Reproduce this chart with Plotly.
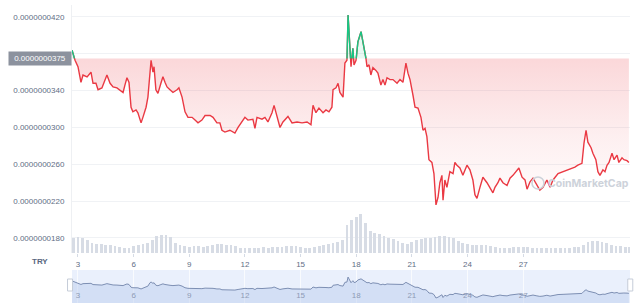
import plotly.graph_objects as go

# ---------------- data ----------------
# time in days of the month, price in units of 1e-10 TRY
days = [2.68, 2.73, 2.84, 3.00, 3.16, 3.27, 3.49, 3.70, 3.81, 3.97, 4.08, 4.29, 4.56, 4.73, 4.89,
        5.10, 5.26, 5.43, 5.53, 5.64, 5.75, 5.86, 5.96, 6.13, 6.23, 6.40, 6.50, 6.67, 6.77, 6.88,
        6.94, 7.04, 7.10, 7.20, 7.31, 7.47, 7.58, 7.69, 7.80, 7.96, 8.12, 8.34, 8.44, 8.61, 8.77,
        8.93, 9.15, 9.31, 9.47, 9.68, 9.85, 10.12, 10.28, 10.49, 10.65, 10.76, 10.92, 11.19, 11.46,
        11.63, 11.84, 12.00, 12.16, 12.43, 12.54, 12.65, 12.92, 13.08, 13.24, 13.46, 13.57, 13.73,
        13.89, 14.05, 14.32, 14.54, 14.81, 15.08, 15.35, 15.56, 15.67, 15.83, 15.99, 16.21, 16.37,
        16.53, 16.69, 16.75, 16.91, 17.02, 17.12, 17.29, 17.39, 17.50, 17.56, 17.66, 17.72, 17.82,
        17.88, 17.99, 18.09, 18.26, 18.36, 18.47, 18.58, 18.69, 18.79, 18.90, 19.06, 19.17, 19.33,
        19.44, 19.55, 19.66, 19.82, 19.98, 20.20, 20.36, 20.52, 20.68, 20.79, 20.90, 21.06, 21.17,
        21.33, 21.49, 21.60, 21.71, 21.81, 21.92, 22.08, 22.19, 22.30, 22.41, 22.51, 22.62, 22.68,
        22.78, 22.89, 23.05, 23.22, 23.32, 23.43, 23.59, 23.75, 23.97, 24.13, 24.29, 24.40, 24.51,
        24.67, 24.83, 25.05, 25.21, 25.37, 25.48, 25.64, 25.75, 25.91, 26.13, 26.29, 26.45, 26.67,
        26.77, 26.94, 27.10, 27.21, 27.37, 27.53, 27.74, 27.90, 28.07, 28.28, 28.45, 28.61, 28.88,
        29.15, 29.41, 29.63, 29.79, 29.95, 30.17, 30.28, 30.39, 30.49, 30.66, 30.76, 30.92, 31.03,
        31.14, 31.30, 31.41, 31.52, 31.63, 31.79, 31.90, 32.06, 32.16, 32.33, 32.43, 32.60, 32.70]
price_e10 = [384, 380, 373, 366, 349, 357, 355, 360, 348, 348, 341, 343, 357, 348, 344,
             343, 341, 338, 346, 354, 349, 322, 317, 319, 316, 305, 311, 322, 333, 366,
             373, 360, 366, 341, 337, 348, 355, 349, 344, 341, 338, 341, 343, 333, 317,
             311, 311, 308, 305, 308, 313, 313, 311, 305, 305, 297, 295, 297, 294,
             300, 306, 311, 308, 309, 299, 311, 309, 311, 306, 316, 324, 313,
             300, 306, 312, 305, 306, 305, 306, 303, 324, 316, 321, 316, 319,
             317, 322, 341, 343, 348, 338, 333, 370, 373, 422, 387, 366, 386,
             368, 373, 393, 404, 393, 384, 366, 368, 357, 365, 362, 359, 346,
             352, 346, 354, 352, 352, 348, 352, 349, 370, 359, 352, 335, 322,
             321, 311, 297, 299, 290, 265, 262, 250, 216, 224, 240, 248, 221,
             243, 235, 252, 250, 262, 259, 256, 248, 259, 254, 243, 227, 223,
             235, 246, 240, 235, 229, 235, 240, 245, 240, 237, 245, 248, 254,
             256, 246, 243, 233, 241, 245, 237, 232, 235, 243, 235, 243, 250,
             252, 254, 256, 257, 259, 261, 283, 297, 284, 278, 272, 265, 252,
             248, 254, 252, 259, 262, 272, 265, 270, 262, 267, 265, 264, 262]
baseline_e10 = 375

vol_days = [2.75 + 0.25 * i for i in range(121)]
volume_m = [15, 16, 15, 13, 10, 9, 9, 8, 8, 7, 6, 5, 5, 7, 8, 9, 10, 13, 17, 18,
            18, 16, 10, 8, 7, 6, 7, 7, 6, 7, 8, 9, 9, 8, 8, 7, 5, 5, 5, 5,
            5, 6, 5, 6, 6, 6, 7, 7, 7, 6, 5, 5, 6, 7, 8, 9, 10, 11, 13, 28,
            33, 36, 39, 30, 22, 20, 19, 17, 15, 14, 12, 10, 9, 11, 13, 14, 15, 15, 16, 17,
            17, 16, 15, 12, 10, 9, 8, 8, 8, 8, 7, 6, 5, 5, 5, 6, 6, 6, 6, 5,
            5, 5, 5, 5, 5, 5, 5, 5, 6, 6, 8, 11, 12, 12, 11, 10, 8, 7, 7, 6, 6]

tick_days = [3, 6, 9, 12, 15, 18, 21, 24, 27]
tick_labels = [str(d) for d in tick_days]
price_ticks_e10 = [180, 220, 260, 300, 340, 380, 420]

SCALE = 1e-10
RED = "#ea3943"
GREEN = "#16c784"
FONT = "Liberation Sans"

# ------------- helpers (insert crossing points with the baseline for colouring) -------------
def with_crossings(xs, ys, base):
    ox, oy = [xs[0]], [ys[0]]
    for i in range(1, len(xs)):
        x0, y0, x1, y1 = xs[i - 1], ys[i - 1], xs[i], ys[i]
        if (y0 - base) * (y1 - base) < 0:
            t = (base - y0) / (y1 - y0)
            ox.append(x0 + t * (x1 - x0))
            oy.append(base)
        ox.append(x1)
        oy.append(y1)
    return ox, oy

cx, cy = with_crossings(days, price_e10, baseline_e10)
lower = [min(v, baseline_e10) * SCALE for v in cy]
upper = [max(v, baseline_e10) * SCALE for v in cy]
base_line = [baseline_e10 * SCALE] * len(cx)
green_y = []
for i, v in enumerate(cy):
    above = v > baseline_e10
    near = v == baseline_e10 and ((i > 0 and cy[i - 1] > baseline_e10) or (i + 1 < len(cy) and cy[i + 1] > baseline_e10))
    green_y.append(v * SCALE if (above or near) else None)
price = [v * SCALE for v in price_e10]

fig = go.Figure()

# red gradient fill between baseline and line
fig.add_trace(go.Scatter(x=cx, y=base_line, mode="lines", line=dict(width=0), hoverinfo="skip", showlegend=False))
fig.add_trace(go.Scatter(x=cx, y=lower, mode="lines", line=dict(width=0), fill="tonexty",
                         fillgradient=dict(type="vertical",
                                           colorscale=[[0, "rgba(234,57,67,0)"], [0.5, "rgba(234,57,67,0.08)"],
                                                       [1, "rgba(234,57,67,0.2)"]],
                                           start=205 * SCALE, stop=baseline_e10 * SCALE),
                         hoverinfo="skip", showlegend=False))
# green fill above baseline
fig.add_trace(go.Scatter(x=cx, y=base_line, mode="lines", line=dict(width=0), hoverinfo="skip", showlegend=False))
fig.add_trace(go.Scatter(x=cx, y=upper, mode="lines", line=dict(width=0), fill="tonexty",
                         fillcolor="rgba(22,199,132,0.10)", hoverinfo="skip", showlegend=False))

# volume bars
fig.add_trace(go.Bar(x=vol_days, y=volume_m, yaxis="y2", width=0.15,
                     marker=dict(color="#d7dce5", line=dict(width=0)), showlegend=False, hoverinfo="skip"))

# price lines
fig.add_trace(go.Scatter(x=cx, y=[v * SCALE for v in cy], mode="lines", line=dict(color=RED, width=1.4),
                         showlegend=False))
fig.add_trace(go.Scatter(x=cx, y=green_y, mode="lines", line=dict(color=GREEN, width=1.4),
                         connectgaps=False, showlegend=False))

# navigator
fig.add_trace(go.Scatter(x=days, y=price, xaxis="x3", yaxis="y3", mode="lines",
                         line=dict(color="#7d8fb3", width=1), fill="tozeroy",
                         fillcolor="rgba(183,201,238,0.45)", showlegend=False, hoverinfo="skip"))

xr = [2.677, 32.76]
fig.update_layout(
    width=640, height=307,
    margin=dict(l=72, r=10, t=5, b=4),
    paper_bgcolor="white", plot_bgcolor="white",
    font=dict(family=FONT, size=8, color="#616e85"),
    bargap=0,
    xaxis=dict(range=xr, domain=[0, 1], anchor="y", tickvals=tick_days, ticktext=tick_labels,
               showgrid=False, zeroline=False, showline=False, ticks="outside", ticklen=3,
               tickcolor="#d5dbe5", tickfont=dict(size=8, color="#616e85")),
    yaxis=dict(domain=[0.1678, 1], range=[163.7 * SCALE, 433 * SCALE],
               tickvals=[v * SCALE for v in price_ticks_e10], tickformat=".10f",
               showgrid=True, gridcolor="#f0f2f5", gridwidth=1, zeroline=False,
               showline=True, linecolor="#eef0f3", ticks="", ticklabelstandoff=5,
               tickfont=dict(size=8, color="#616e85")),
    yaxis2=dict(domain=[0.1678, 1], range=[0, 248], overlaying="y", anchor="x",
                visible=False),
    xaxis3=dict(range=xr, domain=[0, 1], anchor="y3", tickvals=tick_days, ticktext=tick_labels,
                showgrid=True, gridcolor="rgba(255,255,255,0.7)", zeroline=False, showline=False,
                ticks="", ticklabelposition="inside", tickfont=dict(size=8, color="#8e9bb5")),
    yaxis3=dict(domain=[0, 0.1107], range=[167 * SCALE, 491 * SCALE], visible=False, fixedrange=True),
)

# navigator band background
fig.add_shape(type="rect", xref="x3 domain", yref="y3 domain", x0=0, x1=1, y0=0, y1=1,
              fillcolor="#eaf0fc", line=dict(width=0), layer="below")
# navigator handles
for xp in (-0.004, 1.0):
    fig.add_shape(type="rect", xref="paper", yref="paper", x0=xp - 0.004, x1=xp + 0.005,
                  y0=(303 - 291) / 298, y1=(303 - 279) / 298, fillcolor="white",
                  line=dict(color="#c5ccd8", width=1))

# baseline label
fig.add_annotation(xref="paper", yref="y", x=0, y=baseline_e10 * SCALE, xanchor="right", yanchor="middle",
                   text="0.0000000375", showarrow=False, bgcolor="#8c929e", borderpad=2,
                   font=dict(size=8, color="white", family=FONT), width=58)

# currency label
fig.add_annotation(xref="paper", yref="paper", x=(40 - 72) / 558, y=(303 - 261) / 298, xanchor="center",
                   yanchor="middle", text="<b>TRY</b>", showarrow=False,
                   font=dict(size=8, color="#58667e", family=FONT))

# watermark
fig.add_shape(type="circle", xref="paper", yref="paper", x0=(532 - 72) / 558, x1=(544 - 72) / 558,
              y0=(303 - 189) / 298, y1=(303 - 177) / 298, line=dict(color="#cdd2da", width=1.6))
fig.add_annotation(xref="paper", yref="paper", x=(546 - 72) / 558, y=(303 - 183) / 298, xanchor="left",
                   yanchor="middle", text="<b>CoinMarketCap</b>", showarrow=False,
                   font=dict(size=10.5, color="#cdd2da", family="Inter"))

fig.write_html("out.html")
